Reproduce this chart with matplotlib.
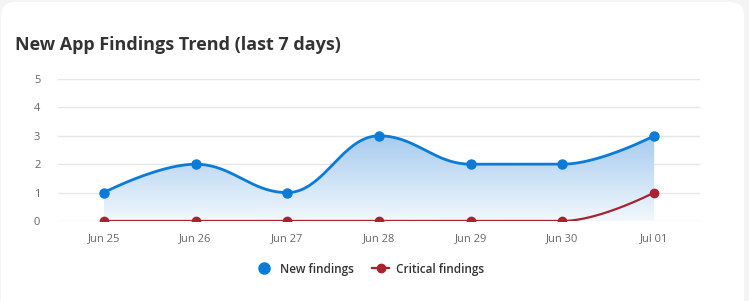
import numpy as np
import matplotlib.pyplot as plt
from matplotlib.patches import FancyBboxPatch, Polygon
from matplotlib.lines import Line2D
from matplotlib.colors import LinearSegmentedColormap

plt.rcParams['font.family'] = ['Open Sans', 'DejaVu Sans']

dates = ["Jun 25", "Jun 26", "Jun 27", "Jun 28", "Jun 29", "Jun 30", "Jul 01"]
new_findings = [1, 2, 1, 3, 2, 2, 3]
critical_findings = [0, 0, 0, 0, 0, 0, 1]

BLUE = "#0a7bd8"
RED = "#a8232f"


def spline(xs, ys, n=40):
    """highcharts-like spline through the points"""
    xs = np.asarray(xs, float)
    ys = np.asarray(ys, float)
    k = 1.5
    lc, rc = [], []
    for i in range(len(xs)):
        x, y = xs[i], ys[i]
        if 0 < i < len(xs) - 1:
            lx = (k * x + xs[i - 1]) / (k + 1)
            ly = (k * y + ys[i - 1]) / (k + 1)
            rx = (k * x + xs[i + 1]) / (k + 1)
            ry = (k * y + ys[i + 1]) / (k + 1)
            corr = (ry - ly) * (rx - x) / (rx - lx) + y - ry
            ly += corr
            ry += corr
            if ly > max(ys[i - 1], y) or ly < min(ys[i - 1], y):
                ly = np.clip(ly, min(ys[i - 1], y), max(ys[i - 1], y))
                ry = 2 * y - ly
            if ry > max(ys[i + 1], y) or ry < min(ys[i + 1], y):
                ry = np.clip(ry, min(ys[i + 1], y), max(ys[i + 1], y))
                ly = 2 * y - ry
            lc.append((lx, ly))
            rc.append((rx, ry))
        else:
            lc.append((x, y))
            rc.append((x, y))
    px, py = [xs[0]], [ys[0]]
    t = np.linspace(0, 1, n)[1:]
    for i in range(1, len(xs)):
        p0 = np.array([xs[i - 1], ys[i - 1]])
        p1 = np.array(rc[i - 1])
        p2 = np.array(lc[i])
        p3 = np.array([xs[i], ys[i]])
        b = ((1 - t) ** 3)[:, None] * p0 + (3 * (1 - t) ** 2 * t)[:, None] * p1 \
            + (3 * (1 - t) * t ** 2)[:, None] * p2 + (t ** 3)[:, None] * p3
        px.extend(b[:, 0])
        py.extend(b[:, 1])
    return np.array(px), np.array(py)


fig = plt.figure(figsize=(7.49, 3.01), dpi=100)
fig.patch.set_facecolor("#f4f4f4")
card = FancyBboxPatch((1, -40), 743, 339, boxstyle="round,pad=0,rounding_size=14",
                      transform=None, facecolor="white", edgecolor="none", zorder=-10)
fig.patches.append(card)

ax = fig.add_axes([58 / 749, 1 - 221 / 301, 642 / 749, 142 / 301])
ax.set_facecolor("none")
x = np.arange(len(dates))

# blue area with vertical gradient
sx, sy = spline(x, new_findings)
poly = Polygon(np.column_stack([np.r_[sx, sx[-1], sx[0]], np.r_[sy, 0, 0]]),
               closed=True, facecolor="none", edgecolor="none")
ax.add_patch(poly)
grad = np.linspace(1, 0, 256)[:, None]
cmap = LinearSegmentedColormap.from_list("g", ["#f2f8fd", "#a6cbee"])
im = ax.imshow(grad, cmap=cmap, aspect="auto", extent=[x[0], x[-1], 0, 3],
               origin="upper", zorder=1)
im.set_clip_path(poly)

ax.plot(sx, sy, color=BLUE, lw=2, zorder=3, solid_capstyle="round")
ax.plot(x, new_findings, "o", color=BLUE, ms=6.5, zorder=4)

cx, cy = spline(x, critical_findings)
ax.plot(cx, cy, color=RED, lw=1.6, zorder=3)
ax.plot(x, critical_findings, "o", color=RED, ms=6, zorder=4)

ax.set_xlim(-0.5, 6.5)
ax.set_ylim(0, 5)
ax.set_yticks(range(0, 6))
ax.set_xticks(x)
ax.set_xticklabels(dates)
ax.grid(axis="y", color="#e6e6e6", lw=1)
ax.set_axisbelow(True)
for s in ax.spines.values():
    s.set_visible(False)
ax.tick_params(axis="both", length=0, labelsize=8, labelcolor="#666666")
ax.tick_params(axis="x", pad=9)
ax.tick_params(axis="y", pad=15)
for lbl in ax.get_yticklabels():
    lbl.set_horizontalalignment("center")

fig.text(15 / 749, 1 - 45 / 301, "New App Findings Trend (last 7 days)",
         fontsize=13, fontweight="bold", color="#333333", va="center")

handles = [
    Line2D([], [], marker="o", ls="none", color=BLUE, ms=8, label="New findings"),
    Line2D([], [], marker="o", color=RED, ms=6, lw=1.6, label="Critical findings"),
]
leg = fig.legend(handles=handles, loc="center", bbox_to_anchor=(370 / 749, 1 - 269 / 301),
                 ncol=2, frameon=False, fontsize=8.5, handlelength=1.4,
                 columnspacing=1.6, handletextpad=0.6)
for t in leg.get_texts():
    t.set_color("#333333")
    t.set_fontweight("semibold")

fig.savefig("out.png", dpi=100, facecolor=fig.get_facecolor())
